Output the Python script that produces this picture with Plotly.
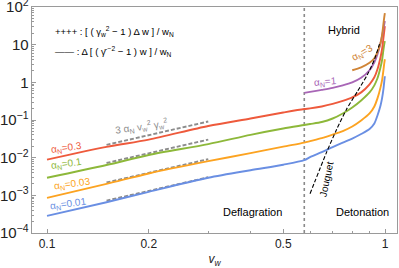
import math
import plotly.graph_objects as go

# ---- data ----
v_defl = [0.1, 0.15, 0.2, 0.3, 0.4, 0.5, 0.577]
v_det = [0.6, 0.65, 0.7, 0.75, 0.8, 0.85, 0.9, 0.93, 0.95, 0.97, 0.98, 0.99, 0.995, 0.999]
v_all = v_defl + v_det

y_a03 = [8.85e-3, 1.93e-2, 3.02e-2, 6.92e-2, 0.1096, 0.158, 0.196,
         0.203, 0.229, 0.267, 0.321, 0.398, 0.541, 0.885, 1.36, 2.22, 4.65, 7.59, 15.8, 22.9, 31.1]
y_a01 = [2.93e-3, 6.38e-3, 1.18e-2, 2.29e-2, 4.03e-2, 5.93e-2, 7.36e-2,
         7.82e-2, 8.85e-2, 0.1096, 0.149, 0.215, 0.331, 0.541, 0.832, 1.28, 2.51, 3.86, 7.59, 10.3, 12.4]
y_a003 = [8.57e-4, 2.01e-3, 3.81e-3, 8.07e-3, 1.32e-2, 1.96e-2, 2.51e-2,
          2.75e-2, 3.31e-2, 4.10e-2, 5.09e-2, 6.71e-2, 9.70e-2, 0.149, 0.229, 0.374, 0.736, 1.13, 2.22, 3.21, 4.10]
y_a001 = [2.84e-4, 6.55e-4, 1.24e-3, 2.93e-3, 4.65e-3, 6.50e-3, 8.57e-3,
          1.03e-2, 1.40e-2, 1.91e-2, 2.51e-2, 3.21e-2, 4.24e-2, 5.75e-2, 8.07e-2, 0.132, 0.244, 0.374, 0.692, 1.06, 1.45]

v_a1 = [0.577] + v_det
y_a1 = [0.525, 0.558, 0.631, 0.713, 0.832, 1.0, 1.32, 2.09, 3.41, 5.58, 11.0, 16.9, 27.5, 35.2, 42.4]

v_a3 = [0.8, 0.85, 0.9, 0.93, 0.95, 0.97, 0.98, 0.99, 0.995, 0.999]
y_a3 = [2.09, 2.51, 3.31, 4.37, 6.31, 11.0, 17.9, 37.4, 54.1, 69.2]

v_joug = [0.600, 0.671, 0.719, 0.769, 0.829, 0.888, 0.931, 0.963]
y_joug = [1.10e-3, 1.36e-2, 5.58e-2, 0.191, 0.575, 1.63, 4.10, 10.3]

v_approx = [0.15, 0.2, 0.25, 0.3]
approx_a03 = [0.0219, 0.0398, 0.0631, 0.0912]
approx_a01 = [7.24e-3, 1.32e-2, 2.09e-2, 3.02e-2]
approx_a003 = [2.19e-3, 3.98e-3, 6.31e-3, 9.12e-3]
approx_a001 = [7.24e-4, 1.32e-3, 2.09e-3, 3.02e-3]

v_cs = 0.577
y_span = [1e-4, 1e2]

x_ticks = [0.1, 0.2, 0.5, 1]
x_ticktext = ["0.1", "0.2", "0.5", "1"]
x_minor = [0.3, 0.4, 0.6, 0.7, 0.8, 0.9]

C_RED = "#EE5A3C"
C_GREEN = "#8DB83A"
C_ORANGE = "#FCA321"
C_BLUE = "#6A8FE3"
C_PURPLE = "#A866B6"
C_BROWN = "#D08537"
C_GRAY = "#8C8C8C"

FONT = "Liberation Sans, Arial, sans-serif"

fig = go.Figure()

# vertical dotted line at c_s
fig.add_trace(go.Scatter(x=[v_cs, v_cs], y=y_span, mode="lines",
                         line=dict(color="#8A8A8A", width=1.6, dash="dot"),
                         showlegend=False, hoverinfo="skip"))

for ys in [approx_a03, approx_a01, approx_a003, approx_a001]:
    fig.add_trace(go.Scatter(x=v_approx, y=ys, mode="lines",
                             line=dict(color=C_GRAY, width=1.9, dash="4px,2px"),
                             showlegend=False, hoverinfo="skip"))

series = [(v_all, y_a001, C_BLUE), (v_all, y_a003, C_ORANGE), (v_all, y_a01, C_GREEN),
          (v_all, y_a03, C_RED), (v_a1, y_a1, C_PURPLE), (v_a3, y_a3, C_BROWN)]
for xs, ys, c in series:
    fig.add_trace(go.Scatter(x=xs, y=ys, mode="lines",
                             line=dict(color=c, width=1.9, shape="spline", smoothing=0.8),
                             showlegend=False, hoverinfo="skip"))

fig.add_trace(go.Scatter(x=v_joug, y=y_joug, mode="lines",
                         line=dict(color="black", width=1.1, dash="4px,2px", shape="spline", smoothing=0.6),
                         showlegend=False, hoverinfo="skip"))

# plot area in pixels: x 32..397, y 7..233
L, R, T, B = 32, 397, 7, 233


def px(xp, yp):
    return (xp - L) / (R - L), (B - yp) / (B - T)


def ann(text, xp, yp, color="black", size=10, angle=0, xanchor="center"):
    x, y = px(xp, yp)
    fig.add_annotation(x=x, y=y, xref="paper", yref="paper", text=text, showarrow=False,
                       xanchor=xanchor, yanchor="middle", textangle=angle,
                       font=dict(family=FONT, size=size, color=color))


ann("++++ : [ ( γ<sub>w</sub><sup>2</sup> − 1 ) Δ w ] / w<sub>N</sub>", 53, 32, size=9.5, xanchor="left")
ann("—— : Δ [ ( γ̄<sup> −2</sup> − 1 ) w ] / w<sub>N</sub>", 53, 52, size=9.5, xanchor="left")

ann("α<sub>N</sub>=0.3", 66, 148, C_RED, 10, -8)
ann("α<sub>N</sub>=0.1", 66, 164, C_GREEN, 10, -8)
ann("α<sub>N</sub>=0.03", 72, 184, C_ORANGE, 10, -8)
ann("α<sub>N</sub>=0.01", 68, 204, C_BLUE, 10, -8)
ann("3 α<sub>N</sub> v<sub>w</sub><sup>2</sup> γ<sub>w</sub><sup>2</sup>", 141, 126, C_GRAY, 10, -8)
ann("α<sub>N</sub>=1", 325, 82, C_PURPLE, 10, -5)
ann("α<sub>N</sub>=3", 362, 53, C_BROWN, 10, -30)
ann("Hybrid", 344, 30, "black", 11)
ann("Deflagration", 252, 212, "black", 11)
ann("Detonation", 362, 212, "black", 11)
ann("Jouguet", 326, 179, "black", 10, -78)

axis_common = dict(showline=True, linecolor="#9A9A9A", linewidth=1, mirror=True,
                   ticks="inside", tickcolor="#9A9A9A", showgrid=False, zeroline=False,
                   automargin=False, ticklabeloverflow="allow",
                   tickfont=dict(family=FONT, size=12, color="#222"))

fig.update_layout(
    width=399, height=268,
    margin=dict(l=L, r=399 - R, t=T, b=268 - B, autoexpand=False),
    paper_bgcolor="white", plot_bgcolor="white",
    xaxis=dict(type="log", range=[-1.0444, 0.0355],
               tickvals=x_ticks, ticktext=x_ticktext, ticklen=4,
               minor=dict(tickvals=x_minor, ticks="inside", ticklen=2, tickcolor="#9A9A9A"),
               title=dict(text="<i>v</i><sub><i>w</i></sub>", standoff=4,
                          font=dict(family=FONT, size=12, color="#222")),
               **axis_common),
    yaxis=dict(type="log", range=[-4, 2], dtick=1, exponentformat="power", ticklen=4,
               minor=dict(ticks="inside", ticklen=2, tickcolor="#9A9A9A", dtick="D1"),
               **axis_common),
)

fig.write_html("out.html", post_script="document.body.style.margin='0';",
               config={"displayModeBar": False})
